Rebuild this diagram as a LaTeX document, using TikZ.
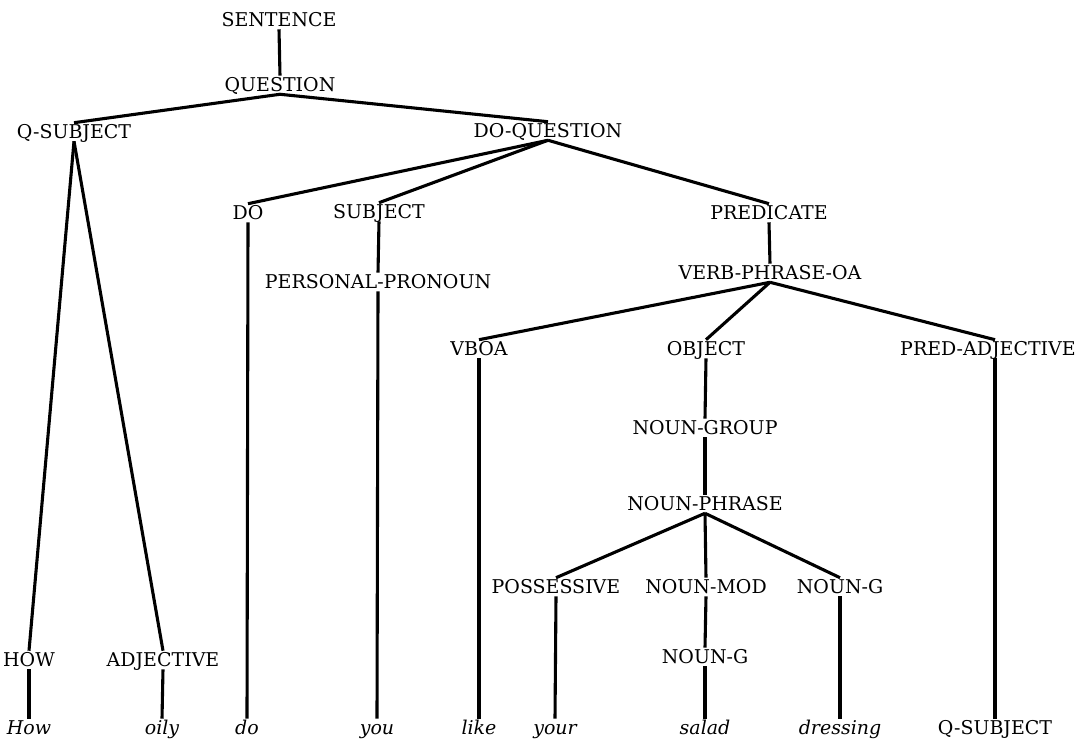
\documentclass[tikz,border=0pt]{standalone}
\usepackage{fontspec}
\setmainfont{DejaVu Serif}
\usepackage{tikz}
\usetikzlibrary{positioning}
\tikzset{
    cat/.style={font=\fontsize{13.5}{16}\selectfont,text height=9.8pt,text depth=0pt,inner xsep=0pt,inner ysep=1.5pt},
    word/.style={cat,font=\fontsize{13.5}{16}\selectfont\itshape},
    branch/.style={line width=2.2pt}
}
\begin{document}
\begin{tikzpicture}[x=0.025cm,y=-0.025cm]
    \useasboundingbox (0,0) rectangle (1079,740);
    % categories
    \node[cat] (sentence) at (279,20) {SENTENCE};
    \node[cat] (question) at (280,85) {QUESTION};
    \node[cat] (qsubj) at (74,132) {Q-SUBJECT};
    \node[cat] (doq) at (548,131) {DO-QUESTION};
    \node[cat] (do) at (248,213) {DO};
    \node[cat] (subj) at (379,212) {SUBJECT};
    \node[cat] (pred) at (769,213) {PREDICATE};
    \node[cat] (perspro) at (378,282) {PERSONAL-PRONOUN};
    \node[cat] (vpoa) at (770,273) {VERB-PHRASE-OA};
    \node[cat] (vboa) at (479,349) {VBOA};
    \node[cat] (object) at (706,349) {OBJECT};
    \node[cat] (predadj) at (988,349) {PRED-ADJECTIVE};
    \node[cat] (ngroup) at (705,428) {NOUN-GROUP};
    \node[cat] (nphrase) at (705,504) {NOUN-PHRASE};
    \node[cat] (poss) at (556,587) {POSSESSIVE};
    \node[cat] (nmod) at (706,587) {NOUN-MOD};
    \node[cat] (ng) at (840,587) {NOUN-G};
    \node[cat] (how) at (29,660) {HOW};
    \node[cat] (adj) at (163,660) {ADJECTIVE};
    \node[cat] (ngsub) at (705,657) {NOUN-G};
    % words
    \node[word] (whow) at (29,728) {How};
    \node[word] (woily) at (162,728) {oily};
    \node[word] (wdo) at (247,728) {do};
    \node[word] (wyou) at (377,728) {you};
    \node[word] (wlike) at (479,728) {like};
    \node[word] (wyour) at (555,728) {your};
    \node[word] (wsalad) at (705,728) {salad};
    \node[word] (wdressing) at (840,728) {dressing};
    \node[cat] (wqsubj) at (995,728) {Q-SUBJECT};
    % branches
    \draw[branch] (sentence.south)--(question.north);
    \draw[branch] (question.south)--(qsubj.north);
    \draw[branch] (question.south)--(doq.north);
    \draw[branch] (qsubj.south)--(how.north);
    \draw[branch] (qsubj.south)--(adj.north);
    \draw[branch] (doq.south)--(do.north);
    \draw[branch] (doq.south)--(subj.north);
    \draw[branch] (doq.south)--(pred.north);
    \draw[branch] (subj.south)--(perspro.north);
    \draw[branch] (pred.south)--(vpoa.north);
    \draw[branch] (vpoa.south)--(vboa.north);
    \draw[branch] (vpoa.south)--(object.north);
    \draw[branch] (vpoa.south)--(wqsubj.north|-predadj.north);
    \draw[branch] (object.south)--(ngroup.north);
    \draw[branch] (ngroup.south)--(nphrase.north);
    \draw[branch] (nphrase.south)--(poss.north);
    \draw[branch] (nphrase.south)--(nmod.north);
    \draw[branch] (nphrase.south)--(ng.north);
    \draw[branch] (nmod.south)--(ngsub.north);
    \draw[branch] (how.south)--(whow.north);
    \draw[branch] (adj.south)--(woily.north);
    \draw[branch] (do.south)--(wdo.north);
    \draw[branch] (perspro.south)--(wyou.north);
    \draw[branch] (vboa.south)--(wlike.north);
    \draw[branch] (poss.south)--(wyour.north);
    \draw[branch] (ngsub.south)--(wsalad.north);
    \draw[branch] (ng.south)--(wdressing.north);
    \draw[branch] (wqsubj.north|-predadj.south)--(wqsubj.north);
\end{tikzpicture}
\end{document}
